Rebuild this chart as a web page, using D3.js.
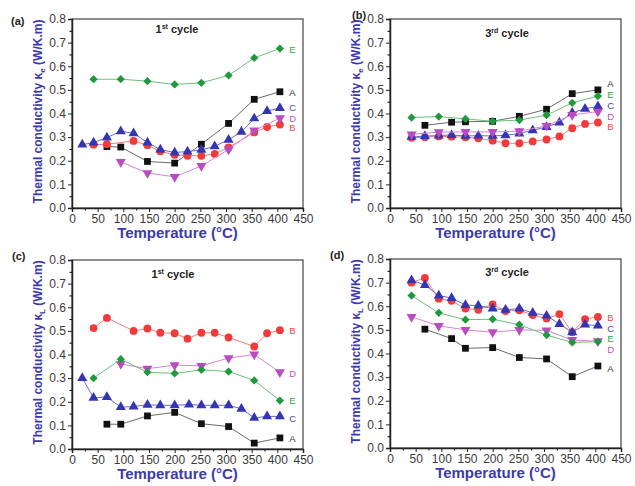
<!DOCTYPE html>
<html>
<head>
<meta charset="utf-8">
<script src="https://cdn.jsdelivr.net/npm/d3@7"></script>
<style>
  body { margin: 0; background: #fff; }
  svg { font-family: "Liberation Sans", Arial, sans-serif; }
</style>
</head>
<body>
<div id="chart"></div>
<script>
// ticks
const xTicks = [0, 50, 100, 150, 200, 250, 300, 350, 400, 450];
const yTicks = [0, 0.1, 0.2, 0.3, 0.4, 0.5, 0.6, 0.7, 0.8];
const seriesNames = ["A", "B", "C", "D", "E"];

// (a) 1st cycle, kappa_e
const a_A_t = [68, 95, 147, 200, 252, 305, 355, 405];
const a_A_v = [0.26, 0.258, 0.197, 0.19, 0.27, 0.358, 0.46, 0.492];
const a_B_t = [42, 68, 120, 147, 172, 200, 225, 252, 278, 305, 355, 380, 405];
const a_B_v = [0.268, 0.27, 0.284, 0.266, 0.24, 0.225, 0.221, 0.221, 0.229, 0.256, 0.32, 0.343, 0.353];
const a_C_t = [20, 42, 68, 95, 120, 147, 172, 200, 225, 252, 278, 305, 330, 355, 380, 405];
const a_C_v = [0.268, 0.277, 0.298, 0.325, 0.316, 0.277, 0.247, 0.235, 0.239, 0.246, 0.261, 0.289, 0.322, 0.379, 0.41, 0.423];
const a_D_t = [95, 147, 200, 252, 305, 355, 405];
const a_D_v = [0.195, 0.148, 0.132, 0.178, 0.248, 0.328, 0.38];
const a_E_t = [42, 95, 147, 200, 252, 305, 355, 405];
const a_E_v = [0.545, 0.545, 0.537, 0.523, 0.53, 0.561, 0.635, 0.675];
const a_labelY = [0.49, 0.34, 0.425, 0.38, 0.67];

// (b) 3rd cycle, kappa_e
const b_A_t = [68, 120, 147, 200, 252, 305, 355, 405];
const b_A_v = [0.35, 0.363, 0.365, 0.367, 0.388, 0.418, 0.484, 0.5];
const b_B_t = [42, 68, 95, 120, 147, 172, 200, 225, 252, 278, 305, 330, 355, 380, 405];
const b_B_v = [0.297, 0.3, 0.303, 0.302, 0.3, 0.295, 0.285, 0.274, 0.274, 0.282, 0.29, 0.303, 0.338, 0.356, 0.362];
const b_C_t = [42, 68, 95, 120, 147, 172, 200, 225, 252, 278, 305, 330, 355, 380, 405];
const b_C_v = [0.301, 0.304, 0.307, 0.309, 0.305, 0.306, 0.305, 0.308, 0.315, 0.329, 0.343, 0.362, 0.403, 0.42, 0.43];
const b_D_t = [42, 95, 147, 200, 252, 305, 355, 405];
const b_D_v = [0.312, 0.321, 0.322, 0.322, 0.325, 0.348, 0.394, 0.408];
const b_E_t = [42, 95, 147, 200, 252, 305, 355, 405];
const b_E_v = [0.383, 0.387, 0.377, 0.367, 0.372, 0.393, 0.445, 0.474];
const b_labelY = [0.525, 0.345, 0.432, 0.388, 0.478];

// (c) 1st cycle, kappa_L
const c_A_t = [68, 95, 147, 200, 252, 305, 355, 405];
const c_A_v = [0.105, 0.105, 0.14, 0.155, 0.107, 0.095, 0.025, 0.047];
const c_B_t = [42, 68, 120, 147, 172, 200, 225, 252, 278, 305, 355, 380, 405];
const c_B_v = [0.512, 0.555, 0.5, 0.51, 0.492, 0.49, 0.467, 0.492, 0.492, 0.472, 0.434, 0.49, 0.503];
const c_C_t = [20, 42, 68, 95, 120, 147, 172, 200, 228, 252, 278, 305, 330, 355, 380, 405];
const c_C_v = [0.3, 0.217, 0.22, 0.177, 0.18, 0.187, 0.185, 0.185, 0.188, 0.185, 0.185, 0.185, 0.17, 0.132, 0.138, 0.138];
const c_D_t = [95, 147, 200, 252, 305, 355, 405];
const c_D_v = [0.36, 0.34, 0.355, 0.352, 0.385, 0.4, 0.325];
const c_E_t = [42, 95, 147, 200, 252, 305, 355, 405];
const c_E_v = [0.3, 0.38, 0.325, 0.32, 0.335, 0.328, 0.29, 0.205];
const c_labelY = [0.045, 0.5, 0.13, 0.32, 0.205];

// (d) 3rd cycle, kappa_L
const d_A_t = [68, 120, 147, 200, 252, 305, 355, 405];
const d_A_v = [0.503, 0.463, 0.422, 0.425, 0.383, 0.377, 0.302, 0.347];
const d_B_t = [42, 68, 95, 120, 147, 172, 200, 225, 252, 278, 305, 330, 355, 380, 405];
const d_B_v = [0.7, 0.72, 0.632, 0.623, 0.59, 0.585, 0.608, 0.58, 0.583, 0.563, 0.548, 0.567, 0.49, 0.545, 0.555];
const d_C_t = [42, 68, 95, 120, 147, 172, 200, 225, 252, 278, 305, 330, 355, 380, 405];
const d_C_v = [0.71, 0.69, 0.645, 0.635, 0.605, 0.603, 0.59, 0.585, 0.59, 0.572, 0.56, 0.525, 0.49, 0.522, 0.518];
const d_D_t = [42, 95, 147, 200, 252, 305, 355, 405];
const d_D_v = [0.555, 0.517, 0.5, 0.49, 0.5, 0.498, 0.457, 0.452];
const d_E_t = [42, 95, 147, 200, 252, 305, 355, 405];
const d_E_v = [0.645, 0.572, 0.543, 0.545, 0.522, 0.478, 0.447, 0.45];
const d_labelY = [0.335, 0.55, 0.506, 0.418, 0.462];

// styles per series A..E
const markerColor = ["#111111", "#f23a3a", "#3434b4", "#b84cc0", "#1e9a3c"];
const lineColor = ["#6a6a6a", "#f27d7d", "#6a6ad0", "#d584d8", "#6cc07c"];
const labelColor = ["#333333", "#f04a4a", "#4646bb", "#c050c0", "#34a84a"];
const symbols = [d3.symbolSquare, d3.symbolCircle, d3.symbolTriangle, d3.symbolTriangle, d3.symbolSquare];
const symSize = [46, 48, 44, 44, 34];
const symRotate = [0, 0, 0, 180, 45];

const W = 635, H = 486;
const svg = d3.select("#chart").append("svg")
    .attr("width", W)
    .attr("height", H);

const panels = [
  {tag: "(a)", cyc: "1", sup: "st", sub: "e", left: 72, top: 19, tagX: 11, tagY: 25, cx: 177, cy: 33,
   t: [a_A_t, a_B_t, a_C_t, a_D_t, a_E_t], v: [a_A_v, a_B_v, a_C_v, a_D_v, a_E_v], ly: a_labelY},
  {tag: "(b)", cyc: "3", sup: "rd", sub: "e", left: 390, top: 19, tagX: 352, tagY: 19, cx: 507, cy: 37,
   t: [b_A_t, b_B_t, b_C_t, b_D_t, b_E_t], v: [b_A_v, b_B_v, b_C_v, b_D_v, b_E_v], ly: b_labelY},
  {tag: "(c)", cyc: "1", sup: "st", sub: "L", left: 72, top: 260, tagX: 12, tagY: 260, cx: 173, cy: 278,
   t: [c_A_t, c_B_t, c_C_t, c_D_t, c_E_t], v: [c_A_v, c_B_v, c_C_v, c_D_v, c_E_v], ly: c_labelY},
  {tag: "(d)", cyc: "3", sup: "rd", sub: "L", left: 390, top: 259, tagX: 330, tagY: 259, cx: 507, cy: 276,
   t: [d_A_t, d_B_t, d_C_t, d_D_t, d_E_t], v: [d_A_v, d_B_v, d_C_v, d_D_v, d_E_v], ly: d_labelY}
];

const pw = 231, ph = 189;
const titleBlue = "#3b3bae";

panels.forEach(function(p) {
  const g = svg.append("g").attr("transform", `translate(${p.left},${p.top})`);

  const x = d3.scaleLinear().domain([0, 450]).range([0, pw]);
  const y = d3.scaleLinear().domain([0, 0.8]).range([ph, 0]);

  // frame
  g.append("rect")
      .attr("width", pw).attr("height", ph)
      .attr("fill", "none").attr("stroke", "#444").attr("stroke-width", 1.2);

  // minor ticks
  g.append("g")
      .attr("transform", `translate(0,${ph})`)
      .call(d3.axisBottom(x).tickValues(d3.range(25, 450, 50)).tickSize(2.5).tickFormat(""))
      .call(a => a.select(".domain").remove());
  g.append("g")
      .call(d3.axisLeft(y).tickValues(d3.range(0.05, 0.8, 0.1)).tickSize(2.5).tickFormat(""))
      .call(a => a.select(".domain").remove());

  // major axes
  const xa = g.append("g")
      .attr("transform", `translate(0,${ph})`)
      .call(d3.axisBottom(x).tickValues(xTicks).tickSize(4).tickPadding(2).tickFormat(d3.format("d")));
  const ya = g.append("g")
      .call(d3.axisLeft(y).tickValues(yTicks).tickSize(4).tickPadding(2).tickFormat(d3.format(".1f")));
  [xa, ya].forEach(function(a) {
    a.select(".domain").attr("stroke", "#222").attr("stroke-width", 1.5);
    a.selectAll(".tick line").attr("stroke", "#222");
    a.selectAll(".tick text").attr("fill", "#3a3a3a").style("font-size", "12px");
  });

  // series lines and markers
  seriesNames.forEach(function(name, i) {
    const pts = p.t[i].map((t, k) => ({t: t, v: p.v[i][k]}));
    g.append("path")
        .datum(pts)
        .attr("fill", "none")
        .attr("stroke", lineColor[i])
        .attr("stroke-width", 1)
        .attr("d", d3.line().x(d => x(d.t)).y(d => y(d.v)));
    g.selectAll(".m" + name)
      .data(pts)
      .join("path")
        .attr("transform", d => `translate(${x(d.t)},${y(d.v)}) rotate(${symRotate[i]})`)
        .attr("d", d3.symbol().type(symbols[i]).size(symSize[i]))
        .attr("fill", markerColor[i]);
    g.append("text")
        .attr("x", x(423))
        .attr("y", y(p.ly[i]))
        .attr("dy", "0.35em")
        .attr("fill", labelColor[i])
        .style("font-size", "9.5px")
        .text(name);
  });

  // cycle title
  const ct = svg.append("text")
      .attr("x", p.cx).attr("y", p.cy)
      .attr("text-anchor", "middle")
      .style("font-size", "11px").style("font-weight", "bold")
      .attr("fill", "#222");
  ct.append("tspan").text(p.cyc);
  ct.append("tspan").attr("dy", -4).style("font-size", "7px").text(p.sup);
  ct.append("tspan").attr("dy", 4).text(" cycle");

  // panel tag
  svg.append("text")
      .attr("x", p.tagX).attr("y", p.tagY)
      .style("font-size", "11px").style("font-weight", "bold")
      .attr("fill", "#222")
      .text(p.tag);

  // x title
  g.append("text")
      .attr("x", pw / 2 - 10).attr("y", ph + 30)
      .attr("text-anchor", "middle")
      .style("font-size", "15px").style("font-weight", "bold")
      .attr("fill", titleBlue)
      .text("Temperature (\u00B0C)");

  // y title
  const yt = g.append("text")
      .attr("transform", `translate(-30,${ph / 2 - 2}) rotate(-90)`)
      .attr("text-anchor", "middle")
      .style("font-size", "12px").style("font-weight", "bold")
      .attr("fill", titleBlue);
  yt.append("tspan").text("Thermal conductivity \u03BA");
  yt.append("tspan").attr("dy", 3).style("font-size", "8px").text(p.sub);
  yt.append("tspan").attr("dy", -3).text(" (W/K.m)");
});
</script>
</body>
</html>
